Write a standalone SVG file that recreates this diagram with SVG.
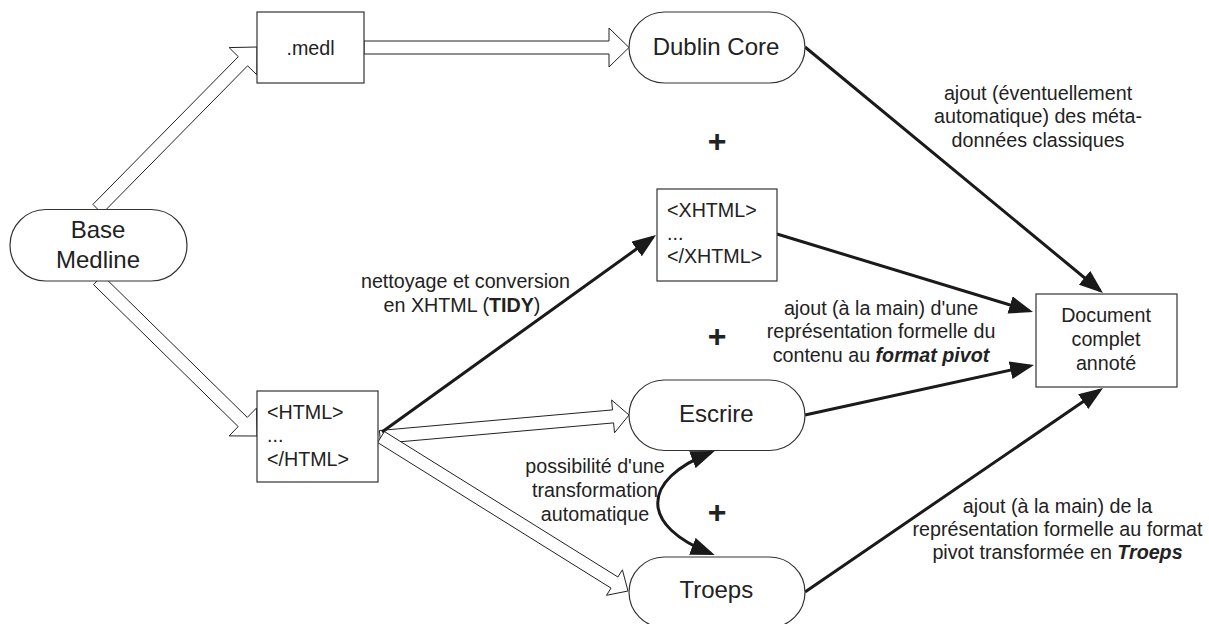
<svg xmlns="http://www.w3.org/2000/svg" width="1209" height="624" viewBox="0 0 1209 624">
<defs>
<marker id="ah" viewBox="0 0 24 18" markerWidth="24" markerHeight="18" refX="20" refY="9" orient="auto-start-reverse" markerUnits="userSpaceOnUse">
<path d="M0,0 L24,9 L0,18 z" fill="#1a1a1a"/>
</marker>
<style>
text{font-family:"Liberation Sans",Arial,sans-serif;fill:#222}
.lbl{font-size:19.7px;text-anchor:middle}
.big{font-size:24px;text-anchor:middle}
.mono{font-size:19.7px}
.plus{font-size:32px;font-weight:bold;text-anchor:middle}
.node{fill:#fff;stroke:#333;stroke-width:1.2}
.hollow{fill:#fff;stroke:#222;stroke-width:1}
.solid{fill:none;stroke:#1a1a1a;stroke-width:3;marker-end:url(#ah)}
</style>
</defs>
<rect width="1209" height="624" fill="#fff"/>
<g id="connectors">
<polygon class="hollow" points="102.1,213.6 247.6,65.8 256.9,74.9 257,47 229.1,47.6 238.3,56.7 92.9,204.4"/>
<polygon class="hollow" points="93.5,284.6 238.2,426.6 229.1,435.9 257,436 256.4,408.1 247.3,417.4 102.6,275.4"/>
<polygon class="hollow" points="364,41 609,41 609,28 629,47.5 609,67 609,54 364,54"/>
<polygon class="hollow" points="380.6,443.5 613.6,422.9 614.5,432.8 629,415 611.6,400 612.5,409.9 379.4,430.5"/>
<polygon class="hollow" points="377.6,442.5 611,588.1 606.5,595.3 628,591 622.4,569.8 617.9,577 384.4,431.5"/>
<line class="solid" x1="805" y1="47" x2="1099.9" y2="290.5"/>
<line class="solid" x1="777" y1="234" x2="1029.2" y2="310.8"/>
<line class="solid" x1="382" y1="432" x2="652.8" y2="237.3"/>
<line class="solid" x1="805" y1="415" x2="1030.1" y2="365.9"/>
<line class="solid" x1="805" y1="592" x2="1099.7" y2="390.3"/>
<path class="solid" d="M711,452.5 C640,480 640,526 711,553.5" marker-start="url(#ah)"/>
</g>
<g id="base-medline">
<rect class="node" x="10" y="209.5" width="177" height="71.5" rx="35.75"/>
<text class="big" x="98" y="238.3">Base</text>
<text class="big" x="98" y="268.3">Medline</text>
</g>
<g id="medl">
<rect class="node" x="257" y="12" width="107" height="71"/>
<text class="lbl" x="310.5" y="55">.medl</text>
</g>
<g id="dublin-core">
<rect class="node" x="629" y="12" width="176" height="71" rx="35.5"/>
<text class="big" x="716" y="55">Dublin Core</text>
</g>
<g id="xhtml">
<rect class="node" x="657" y="189" width="120" height="92"/>
<text class="mono" x="667" y="216.7">&lt;XHTML&gt;</text>
<text class="mono" x="667" y="240">...</text>
<text class="mono" x="667" y="263.3">&lt;/XHTML&gt;</text>
</g>
<g id="html">
<rect class="node" x="257" y="391" width="121" height="91"/>
<text class="mono" x="267" y="419">&lt;HTML&gt;</text>
<text class="mono" x="267" y="441.7">...</text>
<text class="mono" x="267" y="465.7">&lt;/HTML&gt;</text>
</g>
<g id="escrire">
<rect class="node" x="629" y="380" width="176" height="70.5" rx="35.25"/>
<text class="big" x="716.3" y="421.7">Escrire</text>
</g>
<g id="troeps">
<rect class="node" x="629" y="557" width="176" height="70.5" rx="35.25"/>
<text class="big" x="716.3" y="598.3">Troeps</text>
</g>
<g id="document">
<rect class="node" x="1036" y="294" width="141" height="93"/>
<text class="lbl" x="1106" y="321.7">Document</text>
<text class="lbl" x="1106" y="346">complet</text>
<text class="lbl" x="1106" y="370">annoté</text>
</g>
<g id="labels">
<text class="lbl" x="465.5" y="288.3">nettoyage et conversion</text>
<text class="lbl" x="462" y="311.7">en XHTML (<tspan font-weight="bold">TIDY</tspan>)</text>
<text class="lbl" x="1038" y="100">ajout (éventuellement</text>
<text class="lbl" x="1038" y="123.3">automatique) des méta-</text>
<text class="lbl" x="1038" y="146.7">données classiques</text>
<text class="lbl" x="881" y="315">ajout (à la main) d'une</text>
<text class="lbl" x="881" y="338.3">représentation formelle du</text>
<text class="lbl" x="881" y="361.7">contenu au <tspan font-weight="bold" font-style="italic">format pivot</tspan></text>
<text class="lbl" x="595" y="473.3">possibilité d'une</text>
<text class="lbl" x="595" y="497.3">transformation</text>
<text class="lbl" x="595" y="520.7">automatique</text>
<text class="lbl" x="1057.5" y="513.3">ajout (à la main) de la</text>
<text class="lbl" x="1057.5" y="536">représentation formelle au format</text>
<text class="lbl" x="1057.5" y="559.3">pivot transformée en <tspan font-weight="bold" font-style="italic">Troeps</tspan></text>
<text class="plus" x="717" y="151.5">+</text>
<text class="plus" x="717" y="346.5">+</text>
<text class="plus" x="717" y="523">+</text>
</g>
</svg>
